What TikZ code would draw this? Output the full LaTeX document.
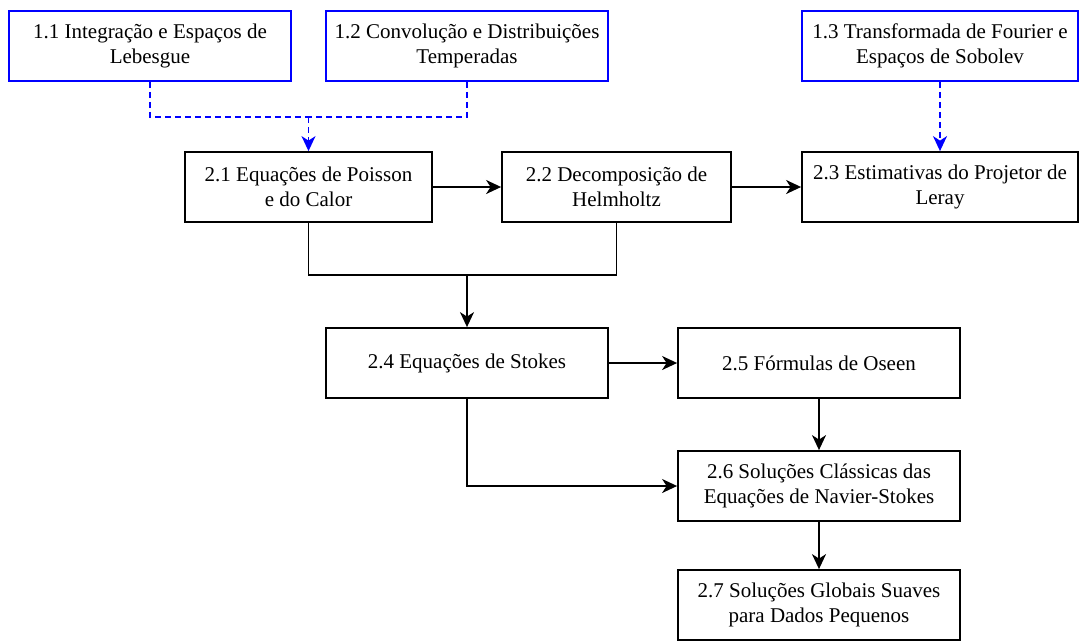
\documentclass[tikz,border=0pt]{standalone}
\usepackage{fontspec}
\setmainfont{Liberation Serif}
\usetikzlibrary{arrows.meta}
\begin{document}
\begin{tikzpicture}[x=1pt,y=-1pt,
  box/.style={draw=black,line width=1.8pt,fill=white,minimum height=70pt,inner sep=0pt,align=center,font=\fontsize{21}{25}\selectfont},
  bluebox/.style={box,draw=blue},
  conn/.style={line width=1.7pt,draw=black},
  arr/.style={conn,-{Stealth[length=15pt,width=14pt,inset=4.5pt]}},
  bdash/.style={line width=1.7pt,draw=blue,dash pattern=on 6pt off 4pt},
  barr/.style={bdash,-{Stealth[length=15pt,width=14pt,inset=4.5pt]}}
]
\useasboundingbox (0,0) rectangle (1079,641);
\node[bluebox,minimum width=282pt] (n11) at (150,46) {1.1 Integração e Espaços de\\Lebesgue};
\node[bluebox,minimum width=282pt] (n12) at (467,46) {1.2 Convolução e Distribuições\\Temperadas};
\node[bluebox,minimum width=276pt] (n13) at (940,46) {1.3 Transformada de Fourier e\\Espaços de Sobolev};
\node[box,minimum width=247pt] (n21) at (308.5,187) {2.1 Equações de Poisson\\e do Calor};
\node[box,minimum width=229pt] (n22) at (616.5,187) {2.2 Decomposição de\\Helmholtz};
\node[box,minimum width=276pt] (n23) at (940,187) {2.3 Estimativas do Projetor de\\Leray};
\node[box,minimum width=282pt] (n24) at (467,363) {2.4 Equações de Stokes};
\node[box,minimum width=282pt] (n25) at (819,363) {2.5 Fórmulas de Oseen};
\node[box,minimum width=282pt] (n26) at (819,486) {2.6 Soluções Clássicas das\\Equações de Navier-Stokes};
\node[box,minimum width=282pt] (n27) at (819,605) {2.7 Soluções Globais Suaves\\para Dados Pequenos};
\coordinate (j1) at (308.5,117);
\coordinate (j2) at (467,275);
\draw[bdash] (n11.south) |- (j1);
\draw[bdash] (n12.south) |- (j1);
\draw[barr] (j1) -- (n21.north);
\draw[barr] (n13.south) -- (n23.north);
\draw[arr] (n21.east) -- (n22.west);
\draw[arr] (n22.east) -- (n23.west);
\draw[conn] (n21.south) |- (j2);
\draw[conn] (n22.south) |- (j2);
\draw[arr] (j2) -- (n24.north);
\draw[arr] (n24.east) -- (n25.west);
\draw[arr] (n25.south) -- (n26.north);
\draw[arr] (n24.south) |- (n26.west);
\draw[arr] (n26.south) -- (n27.north);
\end{tikzpicture}
\end{document}
